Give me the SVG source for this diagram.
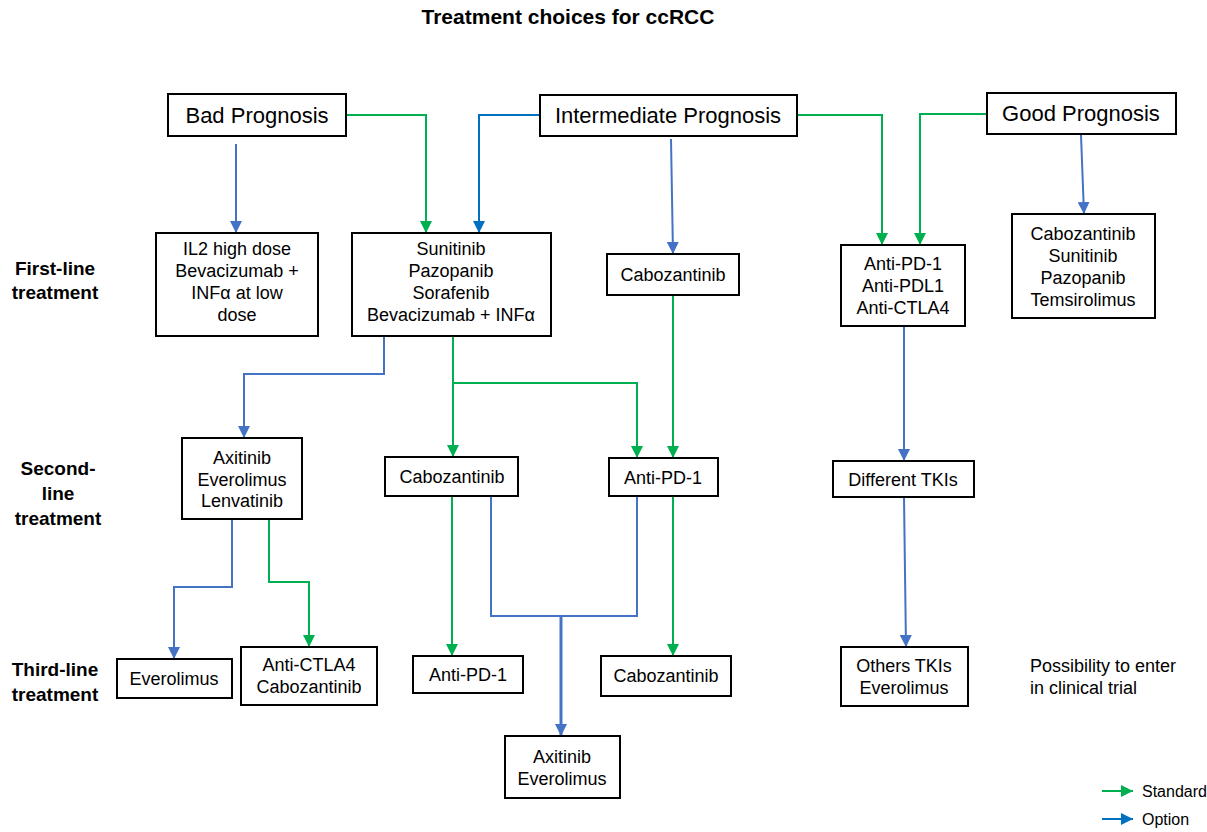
<svg xmlns="http://www.w3.org/2000/svg" width="1207" height="832" viewBox="0 0 1207 832">
<style>
.box{fill:#fff;stroke:#000;stroke-width:2}
.t{font-family:"Liberation Sans",Arial,sans-serif;font-size:18px;fill:#000;text-anchor:middle}
.tl{font-family:"Liberation Sans",Arial,sans-serif;font-size:22px;fill:#000;text-anchor:middle}
.lab{font-family:"Liberation Sans",Arial,sans-serif;font-size:19px;font-weight:bold;fill:#000;text-anchor:middle}
.lg{font-family:"Liberation Sans",Arial,sans-serif;font-size:16px;fill:#000}
.g{fill:none;stroke:#00B050;stroke-width:2;marker-end:url(#ag)}
.b{fill:none;stroke:#4472C4;stroke-width:2;marker-end:url(#ab)}
.b2{fill:none;stroke:#0070C0;stroke-width:2;marker-end:url(#ab2)}
.bn{fill:none;stroke:#4472C4;stroke-width:2}
</style>
<defs>
<marker id="ag" markerUnits="userSpaceOnUse" markerWidth="12" markerHeight="12" refX="12" refY="6" orient="auto"><path d="M0,0 L12,6 L0,12 Z" fill="#00B050"/></marker>
<marker id="ab" markerUnits="userSpaceOnUse" markerWidth="12" markerHeight="12" refX="12" refY="6" orient="auto"><path d="M0,0 L12,6 L0,12 Z" fill="#4472C4"/></marker>
<marker id="ab2" markerUnits="userSpaceOnUse" markerWidth="12" markerHeight="12" refX="12" refY="6" orient="auto"><path d="M0,0 L12,6 L0,12 Z" fill="#0070C0"/></marker>
</defs>
<rect width="1207" height="832" fill="#fff"/>
<text x="568" y="24" class="lab" style="font-size:21px">Treatment choices for ccRCC</text>

<g id="row-labels">
<text x="55" y="275" class="lab">First-line</text>
<text x="55" y="299" class="lab">treatment</text>
<text x="58" y="475" class="lab">Second-</text>
<text x="58" y="500" class="lab">line</text>
<text x="58" y="525" class="lab">treatment</text>
<text x="55" y="676" class="lab">Third-line</text>
<text x="55" y="701" class="lab">treatment</text>
</g>

<g id="connectors">
<path class="b" d="M236,144 V233"/>
<path class="g" d="M346,115 H426 V233"/>
<path class="b2" d="M540,115 H479 V233"/>
<path class="b" d="M671,139 L673,254"/>
<path class="g" d="M797,115 H882 V245"/>
<path class="g" d="M987,114 H920 V245"/>
<path class="b" d="M1081,135 L1084,214"/>
<path class="b" d="M384,336 V374 H244 V438"/>
<path class="g" d="M453,336 V457"/>
<path class="g" d="M453,383 H637 V458"/>
<path class="g" d="M673,295 V458"/>
<path class="b" d="M904,326 V461"/>
<path class="b" d="M232,519 V587 H174 V659"/>
<path class="g" d="M269,519 V582 H309 V647"/>
<path class="g" d="M452,496 V656"/>
<path class="bn" d="M491,496 V616 H637 V496"/>
<path class="b" style="stroke-width:3" d="M561,616 V736"/>
<path class="g" d="M673,496 V656"/>
<path class="b" d="M904,497 L906,647"/>
</g>

<g id="bad"><rect class="box" x="168" y="94" width="178" height="42"/><text x="257" y="123" class="tl">Bad Prognosis</text></g>
<g id="intermediate"><rect class="box" x="540" y="95" width="257" height="41"/><text x="668" y="123" class="tl">Intermediate Prognosis</text></g>
<g id="good"><rect class="box" x="987" y="93" width="189" height="41"/><text x="1081" y="121" class="tl">Good Prognosis</text></g>

<g id="il2"><rect class="box" x="156" y="233" width="162" height="103"/>
<text class="t" x="237" y="255">IL2 high dose</text><text class="t" x="237" y="277">Bevacizumab +</text><text class="t" x="237" y="299">INFα at low</text><text class="t" x="237" y="321">dose</text></g>
<g id="sunitinib"><rect class="box" x="352" y="233" width="199" height="103"/>
<text class="t" x="451" y="255">Sunitinib</text><text class="t" x="451" y="277">Pazopanib</text><text class="t" x="451" y="299">Sorafenib</text><text class="t" x="451" y="321">Bevacizumab + INFα</text></g>
<g id="cabo1"><rect class="box" x="607" y="254" width="132" height="41"/><text class="t" x="673" y="281">Cabozantinib</text></g>
<g id="antipd1"><rect class="box" x="841" y="245" width="124" height="81"/>
<text class="t" x="903" y="270">Anti-PD-1</text><text class="t" x="903" y="292">Anti-PDL1</text><text class="t" x="903" y="314">Anti-CTLA4</text></g>
<g id="goodtx"><rect class="box" x="1012" y="214" width="143" height="104"/>
<text class="t" x="1083" y="240">Cabozantinib</text><text class="t" x="1083" y="262">Sunitinib</text><text class="t" x="1083" y="284">Pazopanib</text><text class="t" x="1083" y="306">Temsirolimus</text></g>

<g id="axitinib2"><rect class="box" x="182" y="438" width="120" height="81"/>
<text class="t" x="242" y="464">Axitinib</text><text class="t" x="242" y="486">Everolimus</text><text class="t" x="242" y="507">Lenvatinib</text></g>
<g id="cabo2"><rect class="box" x="385" y="457" width="133" height="39"/><text class="t" x="452" y="483">Cabozantinib</text></g>
<g id="antipd2"><rect class="box" x="609" y="458" width="109" height="38"/><text class="t" x="663" y="484">Anti-PD-1</text></g>
<g id="tkis"><rect class="box" x="833" y="461" width="141" height="36"/><text class="t" x="903" y="486">Different TKIs</text></g>

<g id="everolimus3"><rect class="box" x="117" y="659" width="115" height="39"/><text class="t" x="174" y="685">Everolimus</text></g>
<g id="ctla3"><rect class="box" x="241" y="647" width="136" height="58"/><text class="t" x="309" y="671">Anti-CTLA4</text><text class="t" x="309" y="693">Cabozantinib</text></g>
<g id="antipd3"><rect class="box" x="413" y="656" width="110" height="37"/><text class="t" x="468" y="681">Anti-PD-1</text></g>
<g id="cabo3"><rect class="box" x="601" y="656" width="130" height="40"/><text class="t" x="666" y="682">Cabozantinib</text></g>
<g id="others3"><rect class="box" x="841" y="647" width="127" height="59"/><text class="t" x="904" y="672">Others TKIs</text><text class="t" x="904" y="694">Everolimus</text></g>
<g id="trial"><text class="t" style="text-anchor:start" x="1030" y="672">Possibility to enter</text><text class="t" style="text-anchor:start" x="1030" y="694">in clinical trial</text></g>
<g id="axitinib3"><rect class="box" x="505" y="736" width="115" height="62"/><text class="t" x="562" y="763">Axitinib</text><text class="t" x="562" y="785">Everolimus</text></g>

<g id="legend">
<path class="g" d="M1102,791 H1133"/>
<text x="1142" y="797" class="lg">Standard</text>
<path class="b2" d="M1102,819 H1133"/>
<text x="1142" y="825" class="lg">Option</text>
</g>
</svg>
